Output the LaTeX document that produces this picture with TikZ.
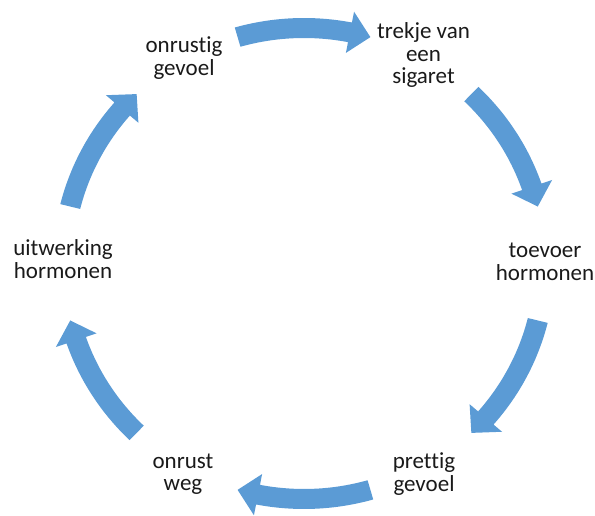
\documentclass[tikz,border=0pt]{standalone}
\usepackage{fontspec}
\setmainfont{Carlito}[Ligatures=NoCommon]
\definecolor{arrowblue}{HTML}{5B9BD5}
\definecolor{labeltext}{HTML}{1A1A1A}
\tikzset{
  label/.style={align=center, inner sep=0pt, text=labeltext, font=\fontsize{23}{22.5}\selectfont},
}
\newcommand{\cyclearrow}[1]{%
  \fill[arrowblue] plot[domain=#1+16:#1-11, samples=25] (\x:245.5)
    -- (#1-11:256.5) -- (#1-16:235.5) -- (#1-11:214.5)
    -- plot[domain=#1-11:#1+16, samples=25] (\x:225.5) -- cycle;%
}
\begin{document}
\begin{tikzpicture}[x=1pt,y=1pt]
\useasboundingbox (0,0) rectangle (595,516);
\node[label] (onrustig) at (184,458) {onrustig\\gevoel};
\node[label] (trekje) at (423.5,461) {trekje van\\een\\sigaret};
\node[label] (toevoer) at (545,254) {toevoer\\hormonen};
\node[label] (prettig) at (424,42) {prettig\\gevoel};
\node[label] (onrustweg) at (183,42) {onrust\\weg};
\node[label] (uitwerking) at (63,257) {uitwerking\\hormonen};
\begin{scope}[shift={(304,252.5)}, x=1.023pt, y=1pt]
  \foreach \a in {90,30,-30,-90,-150,-210} {\cyclearrow{\a}}
\end{scope}
\end{tikzpicture}
\end{document}
